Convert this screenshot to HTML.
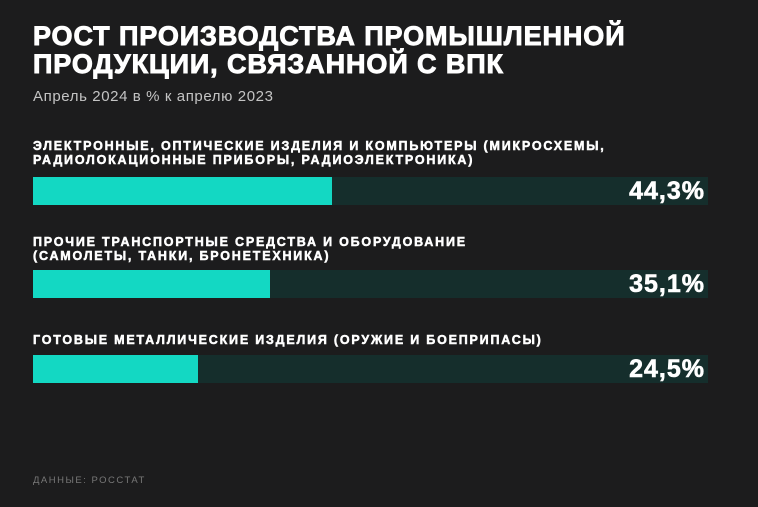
<!DOCTYPE html><html><head><meta charset="utf-8"><style>
body{margin:0;width:758px;height:507px;background:#1c1c1d;font-family:"Liberation Sans",sans-serif;position:relative;overflow:hidden;color:#fff}
.t{position:absolute;left:33px;top:22px;font-size:27px;font-weight:900;line-height:28px;letter-spacing:0.9px;-webkit-text-stroke:0.9px #fff;white-space:nowrap}
.s{position:absolute;left:33px;top:88px;font-size:15px;color:#c4c4c4;letter-spacing:0.6px}
.l{position:absolute;left:33px;font-size:12.5px;font-weight:bold;line-height:14px;letter-spacing:1.8px;-webkit-text-stroke:0.5px #fff;white-space:nowrap}
.b{position:absolute;left:33px;width:675px;height:28px;background:#152e2c}
.f{position:absolute;left:0;top:0;height:28px;background:#13d8c3}
.v{position:absolute;right:3px;top:0;font-size:25px;font-weight:bold;line-height:28px;letter-spacing:1px;-webkit-text-stroke:0.6px #fff}
.d{position:absolute;left:33px;top:475px;font-size:9.5px;color:#777;letter-spacing:1.5px}
</style></head><body>
<div class="t">РОСТ ПРОИЗВОДСТВА ПРОМЫШЛЕННОЙ<br>ПРОДУКЦИИ, СВЯЗАННОЙ С ВПК</div>
<div class="s">Апрель 2024 в % к апрелю 2023</div>
<div class="l" style="top:139px">ЭЛЕКТРОННЫЕ, ОПТИЧЕСКИЕ ИЗДЕЛИЯ И КОМПЬЮТЕРЫ (МИКРОСХЕМЫ,<br>РАДИОЛОКАЦИОННЫЕ ПРИБОРЫ, РАДИОЭЛЕКТРОНИКА)</div>
<div class="b" style="top:177px"><div class="f" style="width:299px"></div><div class="v">44,3%</div></div>
<div class="l" style="top:235px">ПРОЧИЕ ТРАНСПОРТНЫЕ СРЕДСТВА И ОБОРУДОВАНИЕ<br>(САМОЛЕТЫ, ТАНКИ, БРОНЕТЕХНИКА)</div>
<div class="b" style="top:270px"><div class="f" style="width:237px"></div><div class="v">35,1%</div></div>
<div class="l" style="top:333px">ГОТОВЫЕ МЕТАЛЛИЧЕСКИЕ ИЗДЕЛИЯ (ОРУЖИЕ И БОЕПРИПАСЫ)</div>
<div class="b" style="top:355px"><div class="f" style="width:165px"></div><div class="v">24,5%</div></div>
<div class="d">ДАННЫЕ: РОССТАТ</div>
</body></html>
